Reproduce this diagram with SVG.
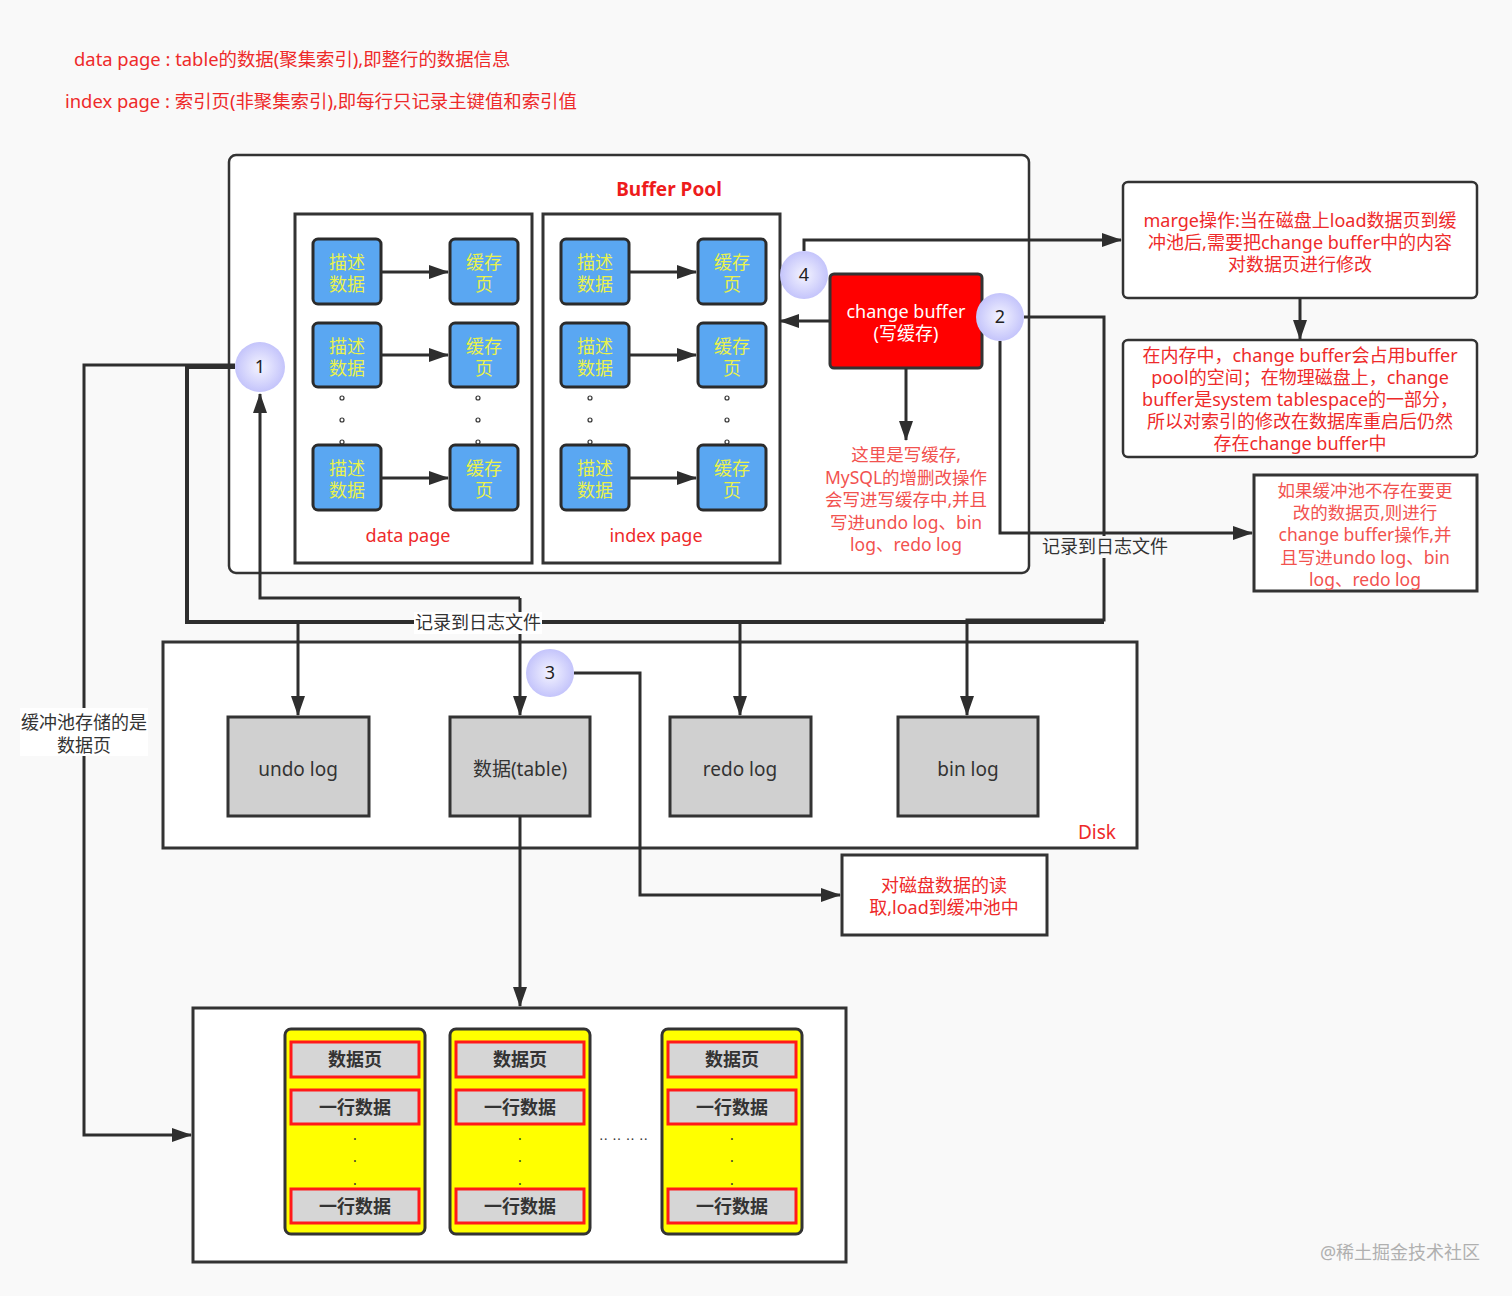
<svg xmlns="http://www.w3.org/2000/svg" width="1512" height="1296" viewBox="0 0 1512 1296">
<defs>
<marker id="arr" viewBox="0 0 20 14" refX="19" refY="7" markerWidth="20" markerHeight="14" markerUnits="userSpaceOnUse" orient="auto">
<path d="M0,0 L20,7 L0,14 z" fill="#2e2e2e"/>
</marker>
<radialGradient id="cg" cx="50%" cy="50%" r="50%">
<stop offset="0" stop-color="#f4f4ff"/>
<stop offset="1" stop-color="#c4c4fb"/>
</radialGradient>
<style>
text{font-family:"Noto Sans","Noto Sans CJK SC",sans-serif;}
.red{fill:#ee2a2a;font-size:18px;}
.top{fill:#ee2a2a;font-size:18.4px;}
.lred{fill:#f2524f;font-size:17.5px;}
.ctr{text-anchor:middle;}
.box{fill:#ffffff;stroke:#333;stroke-width:2.5;}
.blue{fill:#5aa7f2;stroke:#2b2b2b;stroke-width:3;}
.bt{fill:#e9f24c;font-size:18px;text-anchor:middle;}
.gray{fill:#d0d0d0;stroke:#333;stroke-width:3;}
.gt{fill:#333;font-size:19px;text-anchor:middle;}
.ln{fill:none;stroke:#2e2e2e;stroke-width:3;}
.circ{fill:url(#cg);}
.ct{fill:#222;font-size:18px;text-anchor:middle;}
.yel{fill:#ffff00;stroke:#333;stroke-width:3;}
.rr{fill:#d6d6d6;stroke:#ff1a1a;stroke-width:3;}
.rt{fill:#333;font-size:18px;font-weight:bold;text-anchor:middle;}
.dot{fill:#333;font-size:14px;text-anchor:middle;}
.lbl{fill:#333;font-size:18px;text-anchor:middle;}
</style>
</defs>
<rect x="0" y="0" width="1512" height="1296" fill="#f9f9f9"/>

<g id="legend">
<text x="74" y="66" class="top">data page : table的数据(聚集索引),即整行的数据信息</text>
<text x="65" y="108" class="top">index page : 索引页(非聚集索引),即每行只记录主键值和索引值</text>
</g>

<g id="buffer-pool">
<rect x="229" y="155" width="800" height="418" rx="7" class="box"/>
<text x="669" y="196" class="ctr" style="fill:#ee1c1c;font-size:19px;font-weight:bold">Buffer Pool</text>
</g>

<g id="data-page">
<rect x="295" y="214" width="237" height="349" fill="#fff" stroke="#333" stroke-width="3"/>
<text x="408" y="542" class="red ctr">data page</text>
<rect x="313" y="239" width="68" height="65" rx="5" class="blue"/>
<text x="347" y="269" class="bt">描述</text><text x="347" y="291" class="bt">数据</text>
<rect x="450" y="239" width="68" height="65" rx="5" class="blue"/>
<text x="484" y="269" class="bt">缓存</text><text x="484" y="291" class="bt">页</text>
<rect x="313" y="323" width="68" height="64" rx="5" class="blue"/>
<text x="347" y="353" class="bt">描述</text><text x="347" y="375" class="bt">数据</text>
<rect x="450" y="323" width="68" height="64" rx="5" class="blue"/>
<text x="484" y="353" class="bt">缓存</text><text x="484" y="375" class="bt">页</text>
<rect x="313" y="445" width="68" height="65" rx="5" class="blue"/>
<text x="347" y="475" class="bt">描述</text><text x="347" y="497" class="bt">数据</text>
<rect x="450" y="445" width="68" height="65" rx="5" class="blue"/>
<text x="484" y="475" class="bt">缓存</text><text x="484" y="497" class="bt">页</text>
<g fill="none" stroke="#333" stroke-width="1.2">
<circle cx="342" cy="398" r="2"/><circle cx="342" cy="420" r="2"/><circle cx="342" cy="442" r="2"/>
<circle cx="478" cy="398" r="2"/><circle cx="478" cy="420" r="2"/><circle cx="478" cy="442" r="2"/>
</g>
</g>

<g id="index-page">
<rect x="543" y="214" width="237" height="349" fill="#fff" stroke="#333" stroke-width="3"/>
<text x="656" y="542" class="red ctr">index page</text>
<rect x="561" y="239" width="68" height="65" rx="5" class="blue"/>
<text x="595" y="269" class="bt">描述</text><text x="595" y="291" class="bt">数据</text>
<rect x="698" y="239" width="68" height="65" rx="5" class="blue"/>
<text x="732" y="269" class="bt">缓存</text><text x="732" y="291" class="bt">页</text>
<rect x="561" y="323" width="68" height="64" rx="5" class="blue"/>
<text x="595" y="353" class="bt">描述</text><text x="595" y="375" class="bt">数据</text>
<rect x="698" y="323" width="68" height="64" rx="5" class="blue"/>
<text x="732" y="353" class="bt">缓存</text><text x="732" y="375" class="bt">页</text>
<rect x="561" y="445" width="68" height="65" rx="5" class="blue"/>
<text x="595" y="475" class="bt">描述</text><text x="595" y="497" class="bt">数据</text>
<rect x="698" y="445" width="68" height="65" rx="5" class="blue"/>
<text x="732" y="475" class="bt">缓存</text><text x="732" y="497" class="bt">页</text>
<g fill="none" stroke="#333" stroke-width="1.2">
<circle cx="590" cy="398" r="2"/><circle cx="590" cy="420" r="2"/><circle cx="590" cy="442" r="2"/>
<circle cx="727" cy="398" r="2"/><circle cx="727" cy="420" r="2"/><circle cx="727" cy="442" r="2"/>
</g>
</g>

<g id="change-buffer">
<rect x="830" y="274" width="152" height="94" rx="4" fill="#ff0000" stroke="#333" stroke-width="3"/>
<text x="906" y="318" class="ctr" style="fill:#fff;font-size:18px">change buffer</text>
<text x="906" y="340" class="ctr" style="fill:#fff;font-size:18px">(写缓存)</text>
</g>

<g id="change-buffer-note">
<text x="906" y="461" class="lred ctr">这里是写缓存,</text>
<text x="906" y="484" class="lred ctr">MySQL的增删改操作</text>
<text x="906" y="506" class="lred ctr">会写进写缓存中,并且</text>
<text x="906" y="529" class="lred ctr">写进undo log、bin</text>
<text x="906" y="551" class="lred ctr">log、redo log</text>
</g>

<g id="merge-box">
<rect x="1123" y="182" width="354" height="116" rx="5" class="box"/>
<text x="1300" y="227" class="red ctr">marge操作:当在磁盘上load数据页到缓</text>
<text x="1300" y="249" class="red ctr">冲池后,需要把change buffer中的内容</text>
<text x="1300" y="271" class="red ctr">对数据页进行修改</text>
</g>

<g id="memory-box">
<rect x="1123" y="340" width="354" height="117" rx="5" class="box"/>
<text x="1300" y="362" class="red ctr">在内存中，change buffer会占用buffer</text>
<text x="1300" y="384" class="red ctr">pool的空间；在物理磁盘上，change</text>
<text x="1300" y="406" class="red ctr">buffer是system tablespace的一部分，</text>
<text x="1300" y="428" class="red ctr">所以对索引的修改在数据库重启后仍然</text>
<text x="1300" y="450" class="red ctr">存在change buffer中</text>
</g>

<g id="no-page-box">
<rect x="1254" y="475" width="223" height="116" fill="#fff" stroke="#333" stroke-width="3"/>
<text x="1365" y="497" class="lred ctr">如果缓冲池不存在要更</text>
<text x="1365" y="519" class="lred ctr">改的数据页,则进行</text>
<text x="1365" y="541" class="lred ctr">change buffer操作,并</text>
<text x="1365" y="564" class="lred ctr">且写进undo log、bin</text>
<text x="1365" y="586" class="lred ctr">log、redo log</text>
</g>

<g id="disk">
<rect x="163" y="642" width="974" height="206" fill="#fff" stroke="#333" stroke-width="3"/>
<text x="1097" y="839" class="ctr" style="fill:#ee2a2a;font-size:19px">Disk</text>
</g>
<g id="undo-log"><rect x="228" y="717" width="141" height="99" class="gray"/><text x="298" y="776" class="gt">undo log</text></g>
<g id="table-data"><rect x="450" y="717" width="140" height="99" class="gray"/><text x="520" y="776" class="gt">数据(table)</text></g>
<g id="redo-log"><rect x="670" y="717" width="141" height="99" class="gray"/><text x="740" y="776" class="gt">redo log</text></g>
<g id="bin-log"><rect x="898" y="717" width="140" height="99" class="gray"/><text x="968" y="776" class="gt">bin log</text></g>

<g id="load-box">
<rect x="842" y="855" width="205" height="80" fill="#fff" stroke="#333" stroke-width="3"/>
<text x="944" y="892" class="red ctr">对磁盘数据的读</text>
<text x="944" y="914" class="red ctr">取,load到缓冲池中</text>
</g>

<g id="pages">
<rect x="193" y="1008" width="653" height="254" fill="#fff" stroke="#333" stroke-width="3"/>
<g id="page1">
<rect x="285" y="1029" width="140" height="205" rx="6" class="yel"/>
<rect x="291" y="1042" width="128" height="35" class="rr"/><text x="355" y="1066" class="rt">数据页</text>
<rect x="291" y="1090" width="128" height="34" class="rr"/><text x="355" y="1114" class="rt">一行数据</text>
<rect x="291" y="1189" width="128" height="34" class="rr"/><text x="355" y="1213" class="rt">一行数据</text>
<text x="355" y="1140" class="dot">.</text><text x="355" y="1162" class="dot">.</text><text x="355" y="1185" class="dot">.</text>
</g>
<g id="page2">
<rect x="450" y="1029" width="140" height="205" rx="6" class="yel"/>
<rect x="456" y="1042" width="128" height="35" class="rr"/><text x="520" y="1066" class="rt">数据页</text>
<rect x="456" y="1090" width="128" height="34" class="rr"/><text x="520" y="1114" class="rt">一行数据</text>
<rect x="456" y="1189" width="128" height="34" class="rr"/><text x="520" y="1213" class="rt">一行数据</text>
<text x="520" y="1140" class="dot">.</text><text x="520" y="1162" class="dot">.</text><text x="520" y="1185" class="dot">.</text>
</g>
<text x="624" y="1140" class="dot" style="font-size:13px;letter-spacing:1px">.. .. .. ..</text>
<g id="page3">
<rect x="662" y="1029" width="140" height="205" rx="6" class="yel"/>
<rect x="668" y="1042" width="128" height="35" class="rr"/><text x="732" y="1066" class="rt">数据页</text>
<rect x="668" y="1090" width="128" height="34" class="rr"/><text x="732" y="1114" class="rt">一行数据</text>
<rect x="668" y="1189" width="128" height="34" class="rr"/><text x="732" y="1213" class="rt">一行数据</text>
<text x="732" y="1140" class="dot">.</text><text x="732" y="1162" class="dot">.</text><text x="732" y="1185" class="dot">.</text>
</g>
</g>

<g id="connectors">
<path class="ln" d="M381,272 H448" marker-end="url(#arr)"/>
<path class="ln" d="M381,355 H448" marker-end="url(#arr)"/>
<path class="ln" d="M381,478 H448" marker-end="url(#arr)"/>
<path class="ln" d="M629,272 H696" marker-end="url(#arr)"/>
<path class="ln" d="M629,355 H696" marker-end="url(#arr)"/>
<path class="ln" d="M629,478 H696" marker-end="url(#arr)"/>
<path class="ln" d="M830,321 H780" marker-end="url(#arr)"/>
<path class="ln" d="M906,368 V440" marker-end="url(#arr)"/>
<path class="ln" d="M804,251 V240 H1121" marker-end="url(#arr)"/>
<path class="ln" d="M1300,298 V339" marker-end="url(#arr)"/>
<path class="ln" d="M235,365 H84 V1135 H191" marker-end="url(#arr)"/>
<path class="ln" d="M235,367 H187 V622 H1104" style="stroke-width:4"/>
<path class="ln" d="M298,622 V715" marker-end="url(#arr)"/>
<path class="ln" d="M740,622 V715" marker-end="url(#arr)"/>
<path class="ln" d="M1024,317 H1104 V620 H967 V715" marker-end="url(#arr)"/>
<path class="ln" d="M1000,341 V533 H1252" marker-end="url(#arr)"/>
<path class="ln" d="M520,598 H260 V394" marker-end="url(#arr)"/>
<path class="ln" d="M520,598 V715" marker-end="url(#arr)"/>
<path class="ln" d="M574,673 H640 V895 H840" marker-end="url(#arr)"/>
<path class="ln" d="M520,816 V1006" marker-end="url(#arr)"/>
<rect x="414" y="612" width="128" height="22" fill="#fff"/>
<text x="478" y="629" class="lbl">记录到日志文件</text>
<rect x="1041" y="536" width="128" height="22" fill="#f9f9f9"/>
<text x="1105" y="553" class="lbl">记录到日志文件</text>
<rect x="20" y="708" width="128" height="48" fill="#fff"/>
<text x="84" y="729" class="lbl">缓冲池存储的是</text>
<text x="84" y="752" class="lbl">数据页</text>
</g>

<g id="circle-1"><circle cx="260" cy="367" r="25" class="circ"/><text x="260" y="373" class="ct">1</text></g>
<g id="circle-2"><circle cx="1000" cy="317" r="24" class="circ"/><text x="1000" y="323" class="ct">2</text></g>
<g id="circle-3"><circle cx="550" cy="673" r="24" class="circ"/><text x="550" y="679" class="ct">3</text></g>
<g id="circle-4"><circle cx="804" cy="275" r="24" class="circ"/><text x="804" y="281" class="ct">4</text></g>

<text x="1400" y="1259" class="ctr" style="fill:#b0b0b0;font-size:18px">@稀土掘金技术社区</text>
</svg>
